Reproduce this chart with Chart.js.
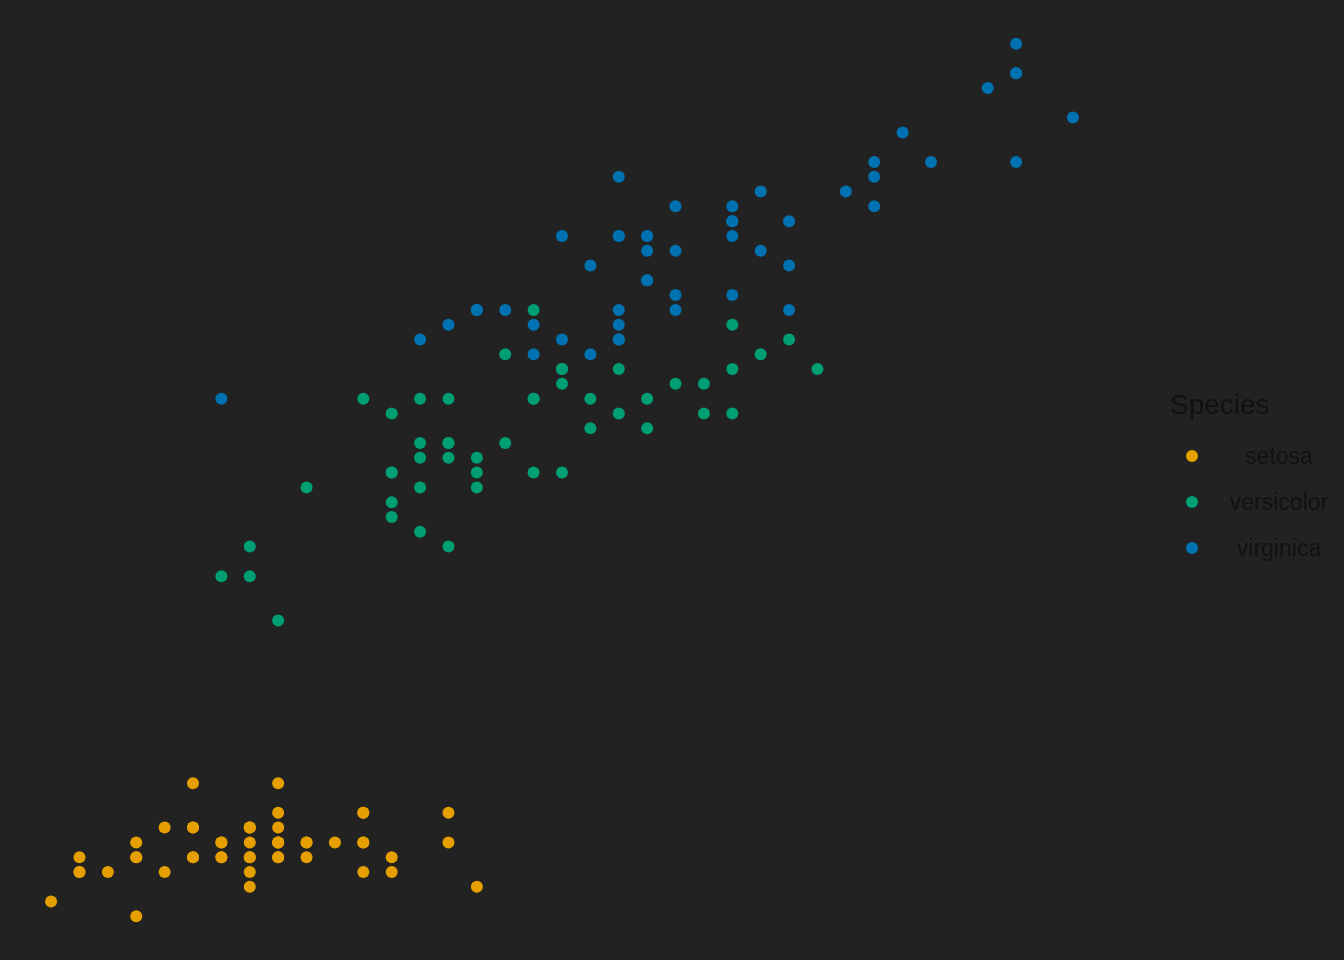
<!DOCTYPE html>
<html>
<head>
<meta charset="utf-8">
<script src="https://cdn.jsdelivr.net/npm/chart.js@4"></script>
<style>
  html, body { margin: 0; padding: 0; background: #222222; }
  #wrap { position: relative; width: 1344px; height: 960px; background: #222222; overflow: hidden; }
  canvas { position: absolute; left: 0; top: 0; }
  .lg { position: absolute; font-family: "Liberation Sans", Arial, sans-serif; color: #111111; line-height: 1; white-space: nowrap; }
  .title { font-size: 28px; }
  .lab { font-size: 23px; transform: translateX(-50%); }
  .key { position: absolute; width: 12px; height: 12px; border-radius: 50%; }
</style>
</head>
<body>
<div id="wrap">
  <canvas id="c" width="1344" height="960"></canvas>
  <div class="lg title" style="left:1170px; top:391px;">Species</div>
  <div class="key" style="left:1186px; top:450px; background:#E69F00;"></div>
  <div class="lg lab" style="left:1279px; top:445px;">setosa</div>
  <div class="key" style="left:1186px; top:496px; background:#009E73;"></div>
  <div class="lg lab" style="left:1279px; top:491px;">versicolor</div>
  <div class="key" style="left:1186px; top:542px; background:#0072B2;"></div>
  <div class="lg lab" style="left:1279px; top:537px;">virginica</div>
</div>
<script>
const setosaSepal = [5.1,4.9,4.7,4.6,5.0,5.4,4.6,5.0,4.4,4.9,5.4,4.8,4.8,4.3,5.8,5.7,5.4,5.1,5.7,5.1,5.4,5.1,4.6,5.1,4.8,5.0,5.0,5.2,5.2,4.7,4.8,5.4,5.2,5.5,4.9,5.0,5.5,4.9,4.4,5.1,5.0,4.5,4.4,5.0,5.1,4.8,5.1,4.6,5.3,5.0];
const setosaPetal = [1.4,1.4,1.3,1.5,1.4,1.7,1.4,1.5,1.4,1.5,1.5,1.6,1.4,1.1,1.2,1.5,1.3,1.4,1.7,1.5,1.7,1.5,1.0,1.7,1.9,1.6,1.6,1.5,1.4,1.6,1.6,1.5,1.5,1.4,1.5,1.2,1.3,1.4,1.3,1.5,1.3,1.3,1.3,1.6,1.9,1.4,1.6,1.4,1.5,1.4];
const versicolorSepal = [7.0,6.4,6.9,5.5,6.5,5.7,6.3,4.9,6.6,5.2,5.0,5.9,6.0,6.1,5.6,6.7,5.6,5.8,6.2,5.6,5.9,6.1,6.3,6.1,6.4,6.6,6.8,6.7,6.0,5.7,5.5,5.5,5.8,6.0,5.4,6.0,6.7,6.3,5.6,5.5,5.5,6.1,5.8,5.0,5.6,5.7,5.7,6.2,5.1,5.7];
const versicolorPetal = [4.7,4.5,4.9,4.0,4.6,4.5,4.7,3.3,4.6,3.9,3.5,4.2,4.0,4.7,3.6,4.4,4.5,4.1,4.5,3.9,4.8,4.0,4.9,4.7,4.3,4.4,4.8,5.0,4.5,3.5,3.8,3.7,3.9,5.1,4.5,4.5,4.7,4.4,4.1,4.0,4.4,4.6,4.0,3.3,4.2,4.2,4.2,4.3,3.0,4.1];
const virginicaSepal = [6.3,5.8,7.1,6.3,6.5,7.6,4.9,7.3,6.7,7.2,6.5,6.4,6.8,5.7,5.8,6.4,6.5,7.7,7.7,6.0,6.9,5.6,7.7,6.3,6.7,7.2,6.2,6.1,6.4,7.2,7.4,7.9,6.4,6.3,6.1,7.7,6.3,6.4,6.0,6.9,6.7,6.9,5.8,6.8,6.7,6.7,6.3,6.5,6.2,5.9];
const virginicaPetal = [6.0,5.1,5.9,5.6,5.8,6.6,4.5,6.3,5.8,6.1,5.1,5.3,5.5,5.0,5.1,5.3,5.5,6.7,6.9,5.0,5.7,4.9,6.7,4.9,5.7,6.0,4.8,4.9,5.6,5.8,6.1,6.4,5.6,5.1,5.6,6.1,5.6,5.5,4.8,5.4,5.6,5.1,5.1,5.9,5.7,5.2,5.0,5.2,5.4,5.1];
const speciesNames = ["setosa","versicolor","virginica"];
const speciesColors = ["#E69F00","#009E73","#0072B2"];

const xs = [setosaSepal, versicolorSepal, virginicaSepal];
const ys = [setosaPetal, versicolorPetal, virginicaPetal];

const datasets = speciesNames.map((name, i) => ({
  label: name,
  data: xs[i].map((x, j) => ({x: x, y: ys[i][j]})),
  backgroundColor: speciesColors[i],
  borderWidth: 0,
  pointRadius: 6,
  pointHoverRadius: 6,
  order: speciesNames.length - 1 - i
}));

new Chart(document.getElementById('c'), {
  type: 'scatter',
  data: { datasets },
  options: {
    responsive: false,
    animation: false,
    layout: { autoPadding: false, padding: { left: 0, top: 0, bottom: 0, right: 220 } },
    plugins: { legend: { display: false }, tooltip: { enabled: false } },
    scales: {
      x: { type: 'linear', min: 4.12, max: 8.08, display: false },
      y: { type: 'linear', min: 0.705, max: 7.195, display: false }
    }
  }
});
</script>
</body>
</html>
